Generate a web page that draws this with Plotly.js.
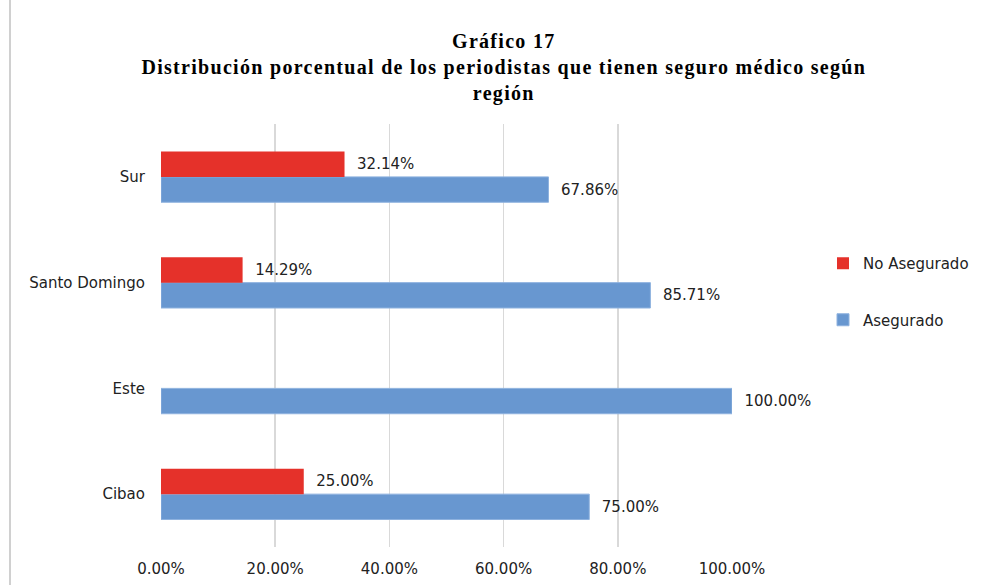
<!DOCTYPE html>
<html>
<head>
<meta charset="utf-8">
<script src="https://cdn.plot.ly/plotly-3.0.1.min.js"></script>
<style>
html,body{margin:0;padding:0;background:#fff;}
#chart{width:984px;height:585px;}
.gtitle{letter-spacing:1.3px;}
</style>
</head>
<body>
<div id="chart"></div>
<script>
const categories = ["Cibao", "Este", "Santo Domingo", "Sur"];
const asegurado = [0.75, 1.00, 0.8571, 0.6786];
const noAsegurado = [0.25, 0.00, 0.1429, 0.3214];
const tickValues = [0, 0.2, 0.4, 0.6, 0.8, 1.0];
const tickLabels = ["0.00%", "20.00%", "40.00%", "60.00%", "80.00%", "100.00%"];

const fmt = v => v > 0 ? "\u00a0\u00a0" + (v * 100).toFixed(2) + "%" : "";
const labelFont = {family: "DejaVu Sans, sans-serif", size: 15, color: "#222"};

const traces = [
  {
    type: "bar", orientation: "h", name: "Asegurado",
    y: categories, x: asegurado, text: asegurado.map(fmt),
    textposition: "outside", cliponaxis: false, constraintext: "none",
    textfont: labelFont, legendgroup: "a", legendrank: 2,
    marker: {color: "#6897d0", line: {color: "#8eb2df", width: 1}},
    hoverinfo: "x+y"
  },
  {
    type: "bar", orientation: "h", name: "No Asegurado",
    y: categories, x: noAsegurado, text: noAsegurado.map(fmt),
    textposition: "outside", cliponaxis: false, constraintext: "none",
    textfont: labelFont, legendgroup: "b", legendrank: 1,
    marker: {color: "#e5312a"},
    hoverinfo: "x+y"
  }
];

const layout = {
  width: 984, height: 585,
  paper_bgcolor: "#fff", plot_bgcolor: "#fff",
  margin: {l: 161, r: 252, t: 124, b: 38, autoexpand: false},
  barmode: "group", bargap: 0.52, bargroupgap: 0,
  title: {
    text: "<b>Gráfico 17</b><br><b>Distribución porcentual de los periodistas que tienen seguro médico según</b><br><b>región</b>",
    font: {family: "Liberation Serif, serif", size: 20, color: "#000"},
    x: 0.512, xanchor: "center", xref: "container",
    y: 1 - 47.5 / 585, yanchor: "top", yref: "container"
  },
  xaxis: {
    range: [0, 1.0], tickvals: tickValues, ticktext: tickLabels,
    showgrid: true, gridcolor: "#d9d9d9", gridwidth: 1.5, zeroline: false,
    showline: false, ticks: "outside", ticklen: 8, tickcolor: "rgba(0,0,0,0)",
    tickfont: labelFont, fixedrange: true
  },
  yaxis: {
    showgrid: false, zeroline: false, showline: false,
    ticks: "outside", ticklen: 12, tickcolor: "rgba(0,0,0,0)",
    tickfont: labelFont, fixedrange: true
  },
  legend: {
    xref: "container", yref: "container",
    x: 823 / 984, xanchor: "left", y: 1 - 247 / 585, yanchor: "top",
    traceorder: "grouped", tracegroupgap: 34,
    font: labelFont, itemwidth: 30, bgcolor: "rgba(0,0,0,0)"
  },
  showlegend: true,
  shapes: [
    {type: "line", xref: "paper", yref: "paper", x0: (10 - 161) / 571, x1: (10 - 161) / 571,
     y0: -0.2, y1: 1.4, line: {color: "#d0d0d0", width: 2}}
  ]
};

Plotly.newPlot("chart", traces, layout, {displayModeBar: false, staticPlot: true});
</script>
</body>
</html>
